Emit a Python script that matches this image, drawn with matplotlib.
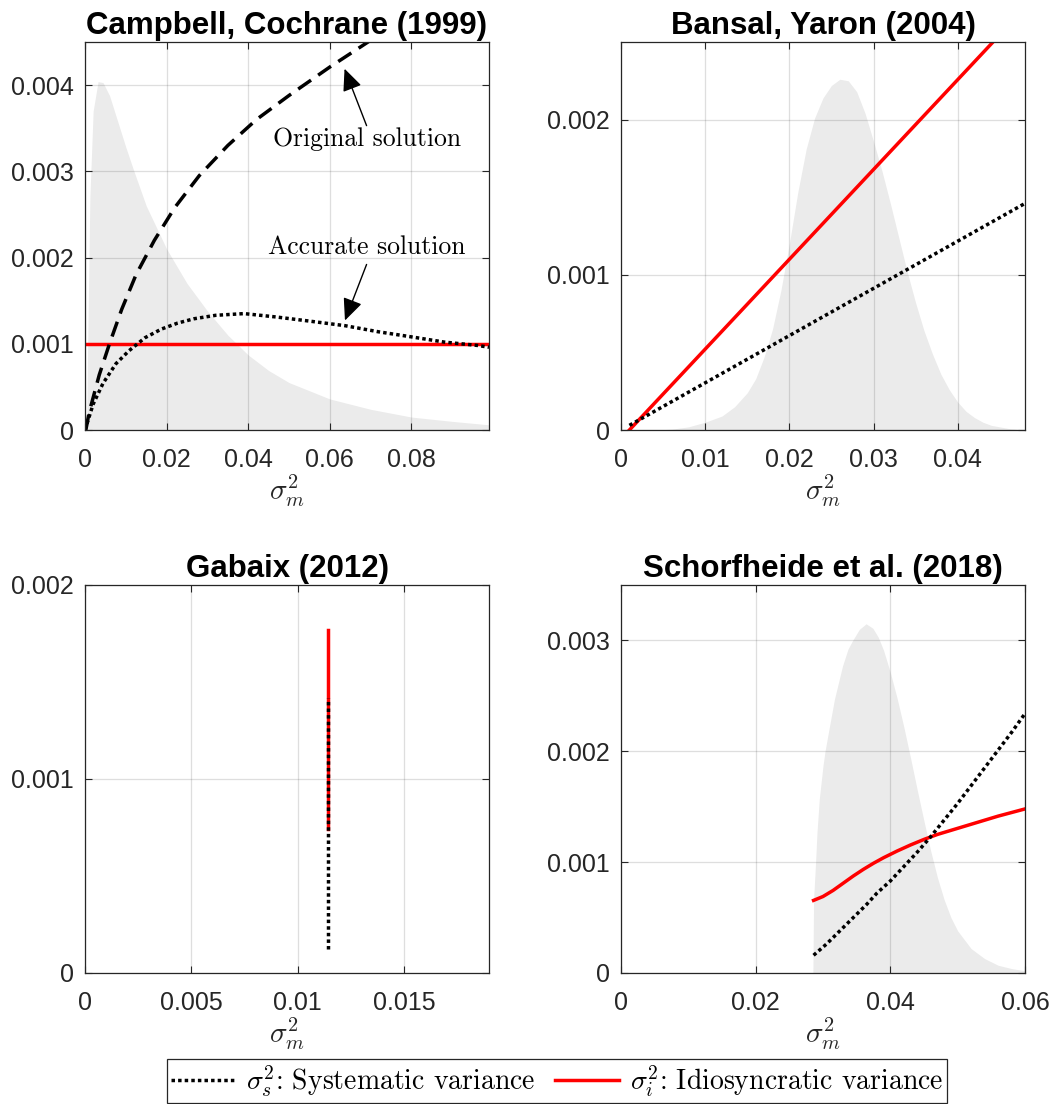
"""
plot.py - systematic vs idiosyncratic variance across four asset pricing models.

Grey areas are the (rescaled) stationary densities of sigma_m^2, lines are the
variance components read off the original figure.
"""
import matplotlib

matplotlib.use("Agg")
import matplotlib.pyplot as plt
from matplotlib.lines import Line2D
from matplotlib.ticker import FuncFormatter

plt.rcParams["font.family"] = ["Liberation Sans", "DejaVu Sans"]
plt.rcParams["mathtext.fontset"] = "cm"

AX_COLOR = "#262626"
FILL = "#ebebeb"
RED = "#ff0000"
DOT = (0, (1.0, 0.9))
DASH = (0, (4.5, 2.5))
LW = 2.5

# --- Campbell, Cochrane (1999) ---
cc_dens_x = [0.0004, 0.0006, 0.0012, 0.002, 0.0032, 0.0044, 0.006, 0.008, 0.010, 0.012,
             0.015, 0.02, 0.025, 0.03, 0.035, 0.04, 0.045, 0.05, 0.06, 0.07, 0.08, 0.09, 0.099]
cc_dens_y = [0.0, 0.0008, 0.0027, 0.0037, 0.00404, 0.00403, 0.00388, 0.00358, 0.00328, 0.0030,
             0.0026, 0.0021, 0.0017, 0.00138, 0.0011, 0.00087, 0.00069, 0.00055, 0.00036,
             0.00024, 0.00015, 0.0001, 0.00006]
cc_orig_x = [0.0002, 0.001, 0.0035, 0.006, 0.009, 0.0125, 0.017, 0.022, 0.028, 0.035, 0.042,
             0.05, 0.06, 0.07]
cc_orig_y = [0.0, 0.0002, 0.00064, 0.001, 0.0014, 0.0018, 0.0022, 0.00258, 0.00295, 0.0033,
             0.0036, 0.00388, 0.00421, 0.00452]
cc_sys_x = [0.0, 0.0004, 0.002, 0.0044, 0.0076, 0.0108, 0.0147, 0.0187, 0.0227, 0.0267, 0.032,
            0.039, 0.047, 0.0555, 0.0637, 0.0718, 0.08, 0.088, 0.0963, 0.099]
cc_sys_y = [0.0, 0.00006, 0.0003, 0.00054, 0.00077, 0.00092, 0.00107, 0.00117, 0.00124, 0.00129,
            0.00133, 0.00135, 0.00131, 0.00126, 0.00121, 0.00114, 0.00108, 0.00102, 0.00098,
            0.00096]
cc_idio_x = [0.0, 0.099]
cc_idio_y = [0.001, 0.001]

# --- Bansal, Yaron (2004) ---
by_dens_x = [0.004, 0.006, 0.008, 0.010, 0.012, 0.0135, 0.015, 0.016, 0.017, 0.018, 0.019,
             0.020, 0.021, 0.022, 0.023, 0.024, 0.025, 0.026, 0.027, 0.028, 0.029,
             0.030, 0.031, 0.032, 0.033, 0.034, 0.035, 0.036, 0.037, 0.038, 0.039, 0.040,
             0.041, 0.042, 0.043, 0.044, 0.046, 0.048]
by_dens_y = [0.0, 0.000005, 0.00002, 0.00005, 0.00009, 0.00015, 0.00024, 0.00033, 0.00047,
             0.00065, 0.0009, 0.0012, 0.00153, 0.00181, 0.00201, 0.00214, 0.00222, 0.00226,
             0.00225, 0.00218, 0.00204, 0.00186, 0.00167, 0.00146, 0.00124, 0.00102, 0.00082,
             0.00064, 0.00049, 0.00036, 0.00026, 0.00018, 0.00012, 0.00008, 0.00005, 0.00003,
             0.00001, 0.0]
by_x = [0.001, 0.048]
by_sys = [0.00003, 0.00146]
by_idio = [0.0, 0.00272]

# --- Gabaix (2012) ---
gb_x = [0.01144, 0.01144]
gb_sys = [0.000124, 0.001417]
gb_idio = [0.000741, 0.001769]

# --- Schorfheide et al. (2018) ---
sch_dens_x = [0.0285, 0.0286, 0.0289, 0.0291, 0.02945, 0.03, 0.0303, 0.0308, 0.0317, 0.0329,
              0.0337, 0.0344, 0.0354, 0.0364, 0.0374, 0.0382, 0.039, 0.040, 0.041, 0.042,
              0.043, 0.044, 0.045, 0.046, 0.047, 0.048, 0.049, 0.050, 0.052, 0.054, 0.056,
              0.058, 0.060]
sch_dens_y = [0.0, 0.00066, 0.001, 0.00126, 0.00157, 0.00187, 0.002, 0.00217, 0.00247, 0.00277,
              0.00292, 0.003, 0.0031, 0.00315, 0.00311, 0.00303, 0.00291, 0.00271, 0.00248,
              0.00222, 0.00194, 0.00165, 0.00137, 0.0011, 0.00086, 0.00066, 0.0005, 0.00038,
              0.00022, 0.00013, 0.00007, 0.00004, 0.00002]
sch_idio_x = [0.0286, 0.030, 0.0315, 0.033, 0.0345, 0.036, 0.0375, 0.039, 0.041, 0.043, 0.045,
              0.047, 0.050, 0.053, 0.056, 0.060]
sch_idio_y = [0.000655, 0.00069, 0.000745, 0.00081, 0.000875, 0.000935, 0.00099, 0.00104,
              0.0011, 0.001155, 0.001205, 0.00125, 0.001305, 0.00136, 0.001415, 0.00148]
sch_sys_x = [0.0286, 0.0305, 0.032, 0.0335, 0.035, 0.0365, 0.038, 0.040, 0.042, 0.044, 0.046,
             0.048, 0.050, 0.052, 0.054, 0.056, 0.058, 0.060]
sch_sys_y = [0.00016, 0.00026, 0.00035, 0.00044, 0.00053, 0.00062, 0.00072, 0.00083, 0.00096,
             0.00109, 0.00123, 0.00138, 0.00153, 0.00169, 0.00185, 0.00201, 0.00217, 0.00234]

TITLES = ["Campbell, Cochrane (1999)", "Bansal, Yaron (2004)", "Gabaix (2012)",
          "Schorfheide et al. (2018)"]
LEGEND_LABELS = [r"$\sigma_s^2$: Systematic variance", r"$\sigma_i^2$: Idiosyncratic variance"]

W, H = 1060, 1104


def style(ax, title, xlim, xticks, ylim, yticks):
    ax.set_xlim(xlim)
    ax.set_ylim(ylim)
    ax.set_xticks(xticks)
    ax.set_yticks(yticks)
    fmt = FuncFormatter(lambda v, _: f"{v:g}")
    ax.xaxis.set_major_formatter(fmt)
    ax.yaxis.set_major_formatter(fmt)
    ax.tick_params(direction="in", length=5, width=0.8, colors=AX_COLOR, labelsize=18,
                   top=True, right=True)
    ax.tick_params(axis="x", pad=13)
    ax.tick_params(axis="y", pad=8)
    for s in ax.spines.values():
        s.set_color(AX_COLOR)
        s.set_linewidth(0.9)
    ax.grid(True, color=AX_COLOR, alpha=0.15, lw=0.9)
    ax.set_title(title, fontsize=22.5, fontweight="bold", pad=6)
    ax.set_xlabel(r"$\sigma_m^2$", fontsize=21, color=AX_COLOR, labelpad=0)


def arrow(ax, tail, tip):
    ax.annotate("", xy=tip, xytext=tail,
                arrowprops=dict(arrowstyle="-|>,head_length=0.9,head_width=0.4",
                                mutation_scale=15, color="k", lw=1, shrinkA=0, shrinkB=0))


fig = plt.figure(figsize=(W / 100, H / 100), dpi=100)
left = [85 / W, 621 / W]
width = 404 / W
bottom = [1 - 430 / H, 1 - 973 / H]
height = 388 / H
ax1 = fig.add_axes([left[0], bottom[0], width, height])
ax2 = fig.add_axes([left[1], bottom[0], width, height])
ax3 = fig.add_axes([left[0], bottom[1], width, height])
ax4 = fig.add_axes([left[1], bottom[1], width, height])

# Campbell, Cochrane
ax1.fill_between(cc_dens_x, 0, cc_dens_y, color=FILL, lw=0)
ax1.plot(cc_idio_x, cc_idio_y, color=RED, lw=LW)
ax1.plot(cc_orig_x, cc_orig_y, color="k", lw=LW, ls=DASH)
ax1.plot(cc_sys_x, cc_sys_y, color="k", lw=LW, ls=DOT)
style(ax1, TITLES[0], (0, 0.099), [0, 0.02, 0.04, 0.06, 0.08],
      (0, 0.0045), [0, 0.001, 0.002, 0.003, 0.004])
ax1.text(0.069, 0.003375, "Original solution", family="cmr10", fontsize=18.5,
         ha="center", va="center")
arrow(ax1, (0.069, 0.00353), (0.0636, 0.00419))
ax1.text(0.069, 0.00212, "Accurate solution", family="cmr10", fontsize=18.5,
         ha="center", va="center")
arrow(ax1, (0.069, 0.00192), (0.0637, 0.00127))

# Bansal, Yaron
ax2.fill_between(by_dens_x, 0, by_dens_y, color=FILL, lw=0)
ax2.plot(by_x, by_idio, color=RED, lw=LW)
ax2.plot(by_x, by_sys, color="k", lw=LW, ls=DOT)
style(ax2, TITLES[1], (0, 0.048), [0, 0.01, 0.02, 0.03, 0.04],
      (0, 0.0025), [0, 0.001, 0.002])

# Gabaix
ax3.plot(gb_x, gb_idio, color=RED, lw=LW)
ax3.plot(gb_x, gb_sys, color="k", lw=LW, ls=DOT)
style(ax3, TITLES[2], (0, 0.019), [0, 0.005, 0.01, 0.015],
      (0, 0.002), [0, 0.001, 0.002])

# Schorfheide et al.
ax4.fill_between(sch_dens_x, 0, sch_dens_y, color=FILL, lw=0)
ax4.plot(sch_idio_x, sch_idio_y, color=RED, lw=LW)
ax4.plot(sch_sys_x, sch_sys_y, color="k", lw=LW, ls=DOT)
style(ax4, TITLES[3], (0, 0.06), [0, 0.02, 0.04, 0.06],
      (0, 0.0035), [0, 0.001, 0.002, 0.003])

handles = [Line2D([], [], color="k", lw=LW, ls=DOT), Line2D([], [], color=RED, lw=LW)]
leg = fig.legend(handles, LEGEND_LABELS, loc="center",
                 bbox_to_anchor=(557 / W, 1 - 1081 / H), ncol=2, frameon=True,
                 fancybox=False, framealpha=1, edgecolor=AX_COLOR,
                 prop={"family": "cmr10", "size": 20}, handlelength=2.3,
                 handletextpad=0.4, columnspacing=0.7, borderpad=0.15)
leg.get_frame().set_linewidth(0.9)

fig.savefig("out.png", dpi=100)
